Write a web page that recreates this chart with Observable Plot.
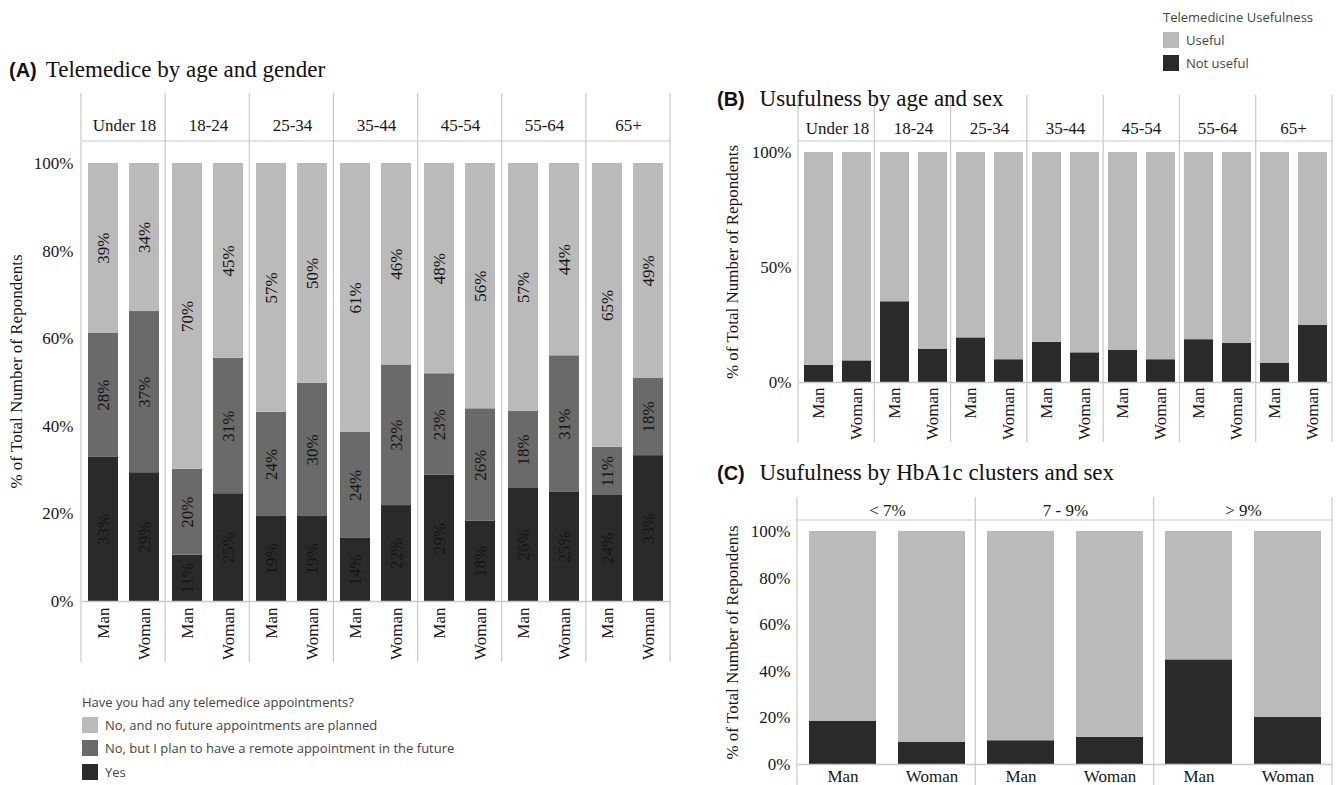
<!DOCTYPE html>
<html>
<head>
<meta charset="utf-8">
<script src="https://cdn.jsdelivr.net/npm/d3@7"></script>
<script src="https://cdn.jsdelivr.net/npm/@observablehq/plot@0.6"></script>
<style>
  html, body { margin: 0; padding: 0; background: #fff; }
  #page { position: relative; width: 1338px; height: 785px; overflow: hidden; background: #fff; }
  .panel { position: absolute; }
  .title { position: absolute; white-space: nowrap; color: #111; font-family: "Liberation Serif", "Times New Roman", serif; font-size: 23px; }
  .title b { font-family: "Liberation Sans", Arial, sans-serif; font-weight: bold; font-size: 20px; margin-right: 9px; }
  .legend { position: absolute; font-family: "Open Sans", sans-serif; font-size: 13px; color: #444; white-space: nowrap; }
  .legend .row { display: flex; align-items: center; height: 23.5px; }
  .legend .sw { width: 16px; height: 16px; margin-right: 7px; }
</style>
</head>
<body>
<div id="page"></div>
<script>
// ---------- data ----------
const ages = ["Under 18", "18-24", "25-34", "35-44", "45-54", "55-64", "65+"];
const genders = ["Man", "Woman"];
const responses = [
  "Yes",
  "No, but I plan to have a remote appointment in the future",
  "No, and no future appointments are planned"
];
const responseColors = ["#2a2a2a", "#6a6a6a", "#bababa"];
// order: Under 18 Man, Under 18 Woman, 18-24 Man, ...
const yesPct  = [32.9, 29.4, 10.6, 24.6, 19.4, 19.4, 14.4, 21.9, 28.8, 18.3, 25.8, 24.9, 24.2, 33.3];
const planPct = [28.4, 36.8, 19.6, 30.9, 23.8, 30.4, 24.2, 32.1, 23.2, 25.7, 17.6, 31.2, 11.0, 17.7];
const noPct   = [38.7, 33.8, 69.8, 44.5, 56.8, 50.2, 61.4, 46.0, 48.0, 56.0, 56.6, 43.9, 64.8, 49.0];

const usefulness = ["Not useful", "Useful"];
const usefulColors = ["#2a2a2a", "#bababa"];
const notUsefulAge = [7.5, 9.4, 35.1, 14.5, 19.4, 9.9, 17.5, 12.9, 13.9, 9.9, 18.6, 17.0, 8.4, 24.9];
const usefulAge    = [92.5, 90.6, 64.9, 85.5, 80.6, 90.1, 82.5, 87.1, 86.1, 90.1, 81.4, 83.0, 91.6, 75.1];

const clusters = ["< 7%", "7 - 9%", "> 9%"];
const notUsefulHb = [18.6, 9.6, 10.2, 11.7, 44.9, 20.2];
const usefulHb    = [81.4, 90.4, 89.8, 88.3, 55.1, 79.8];

const ticksA = [0, 20, 40, 60, 80, 100];
const ticksB = [0, 50, 100];
const ticksC = [0, 20, 40, 60, 80, 100];

// ---------- tables ----------
function cells(groups) {
  const out = [];
  groups.forEach(g => genders.forEach(s => out.push({group: g, gender: s})));
  return out;
}
const cellsA = cells(ages);
const dataA = [];
[yesPct, planPct, noPct].forEach((arr, k) =>
  arr.forEach((v, i) => dataA.push({...cellsA[i], response: responses[k], value: v})));
const dataB = [];
[notUsefulAge, usefulAge].forEach((arr, k) =>
  arr.forEach((v, i) => dataB.push({...cellsA[i], use: usefulness[k], value: v})));
const cellsC = cells(clusters);
const dataC = [];
[notUsefulHb, usefulHb].forEach((arr, k) =>
  arr.forEach((v, i) => dataC.push({...cellsC[i], use: usefulness[k], value: v})));

// ---------- helpers ----------
const SERIF = '"Liberation Serif", "Times New Roman", serif';
const GRID = "#c9c9c9";
const page = document.getElementById("page");

function place(el, left, top) {
  const d = document.createElement("div");
  d.className = "panel";
  d.style.left = left + "px";
  d.style.top = top + "px";
  d.appendChild(el);
  page.appendChild(d);
  return d;
}
function addGrid(plot, top, bottom, header) {
  const fx = plot.scale("fx");
  const [r0, r1] = fx.range;
  const n = fx.domain.length;
  const step = (r1 - r0) / n;
  const g = d3.select(plot).append("g").attr("stroke", GRID).attr("stroke-width", 1.2);
  for (let i = 0; i <= n; i++) {
    const x = r0 + i * step;
    g.append("line").attr("x1", x).attr("x2", x).attr("y1", top).attr("y2", bottom);
  }
  g.append("line").attr("x1", r0).attr("x2", r1).attr("y1", header).attr("y2", header);
}
function title(html, left, top) {
  const d = document.createElement("div");
  d.className = "title";
  d.style.left = left + "px";
  d.style.top = top + "px";
  d.innerHTML = html;
  page.appendChild(d);
}
function legend(head, labels, colors, left, top) {
  const d = document.createElement("div");
  d.className = "legend";
  d.style.left = left + "px";
  d.style.top = top + "px";
  let h = `<div style="height:20px">${head}</div>`;
  labels.forEach((l, i) => {
    h += `<div class="row"><div class="sw" style="background:${colors[i]}"></div><span>${l}</span></div>`;
  });
  d.innerHTML = h;
  page.appendChild(d);
}

const pct = d => d + "%";

// ---------- Panel A ----------
const plotA = Plot.plot({
  width: 680, height: 580,
  marginLeft: 81, marginRight: 10, marginTop: 53, marginBottom: 67,
  style: {fontFamily: SERIF, fontSize: "17px", color: "#161616", background: "transparent"},
  fx: {domain: ages, padding: 0, axis: "top", label: null, tickSize: 0, tickPadding: 11},
  x: {domain: genders, paddingInner: 0.26, paddingOuter: 0.15, axis: "bottom", label: null,
      tickRotate: -90, tickSize: 0, tickPadding: 6},
  y: {domain: [0, 100], insetTop: 22, ticks: ticksA, tickFormat: pct, tickSize: 0, tickPadding: 9,
      label: "% of Total Number of Repondents", labelAnchor: "center", labelOffset: 73, labelArrow: false},
  color: {domain: responses, range: responseColors},
  marks: [
    Plot.barY(dataA, Plot.stackY({fx: "group", x: "gender", y: "value", fill: "response"})),
    Plot.text(dataA, Plot.stackY({fx: "group", x: "gender", y: "value", z: "response",
      text: d => Math.round(d.value) + "%", rotate: -90, fontSize: 17, fill: "#151515"})),
    Plot.ruleY([0], {stroke: GRID, strokeWidth: 1.5})
  ]
});
addGrid(plotA, 5, 574, 53);
place(plotA, 0, 88);
title("<b>(A)</b>Telemedice by age and gender", 9, 57);
legend("Have you had any telemedice appointments?",
  [responses[2], responses[1], responses[0]],
  [responseColors[2], responseColors[1], responseColors[0]], 82, 693);

// ---------- Panel B ----------
const plotB = Plot.plot({
  width: 648, height: 360,
  marginLeft: 108, marginRight: 6, marginTop: 53, marginBottom: 66,
  style: {fontFamily: SERIF, fontSize: "17px", color: "#161616", background: "transparent"},
  fx: {domain: ages, padding: 0, axis: "top", label: null, tickSize: 0, tickPadding: 8},
  x: {domain: genders, paddingInner: 0.24, paddingOuter: 0.12, axis: "bottom", label: null,
      tickRotate: -90, tickSize: 0, tickPadding: 5},
  y: {domain: [0, 100], insetTop: 11, ticks: ticksB, tickFormat: pct, tickSize: 0, tickPadding: 8,
      label: "% of Total Number of Repondents", labelAnchor: "center", labelOffset: 74, labelArrow: false},
  color: {domain: usefulness, range: usefulColors},
  marks: [
    Plot.barY(dataB, Plot.stackY({fx: "group", x: "gender", y: "value", fill: "use"})),
    Plot.ruleY([0], {stroke: GRID, strokeWidth: 1.5})
  ]
});
addGrid(plotB, 7, 354, 53);
place(plotB, 690, 88);
title("<b>(B)</b>&nbsp;Usufulness by age and sex", 717, 86);
legend("Telemedicine Usefulness", ["Useful", "Not useful"], [usefulColors[1], usefulColors[0]], 1163, 8);

// ---------- Panel C ----------
const plotC = Plot.plot({
  width: 648, height: 295,
  marginLeft: 107, marginRight: 6, marginTop: 30, marginBottom: 21,
  style: {fontFamily: SERIF, fontSize: "17px", color: "#161616", background: "transparent", overflow: "visible"},
  fx: {domain: clusters, padding: 0, axis: "top", label: null, tickSize: 0, tickPadding: 5},
  x: {domain: genders, paddingInner: 0.25, paddingOuter: 0.125, axis: "bottom", label: null,
      tickSize: 0, tickPadding: 5},
  y: {domain: [0, 100], insetTop: 11, ticks: ticksC, tickFormat: pct, tickSize: 0, tickPadding: 8,
      label: "% of Total Number of Repondents", labelAnchor: "center", labelOffset: 73, labelArrow: false},
  color: {domain: usefulness, range: usefulColors},
  marks: [
    Plot.barY(dataC, Plot.stackY({fx: "group", x: "gender", y: "value", fill: "use"})),
    Plot.ruleY([0], {stroke: GRID, strokeWidth: 1.5})
  ]
});
addGrid(plotC, 7, 300, 30);
place(plotC, 690, 490);
title("<b>(C)</b>&nbsp;Usufulness by HbA1c clusters and sex", 717, 460);
</script>
</body>
</html>
